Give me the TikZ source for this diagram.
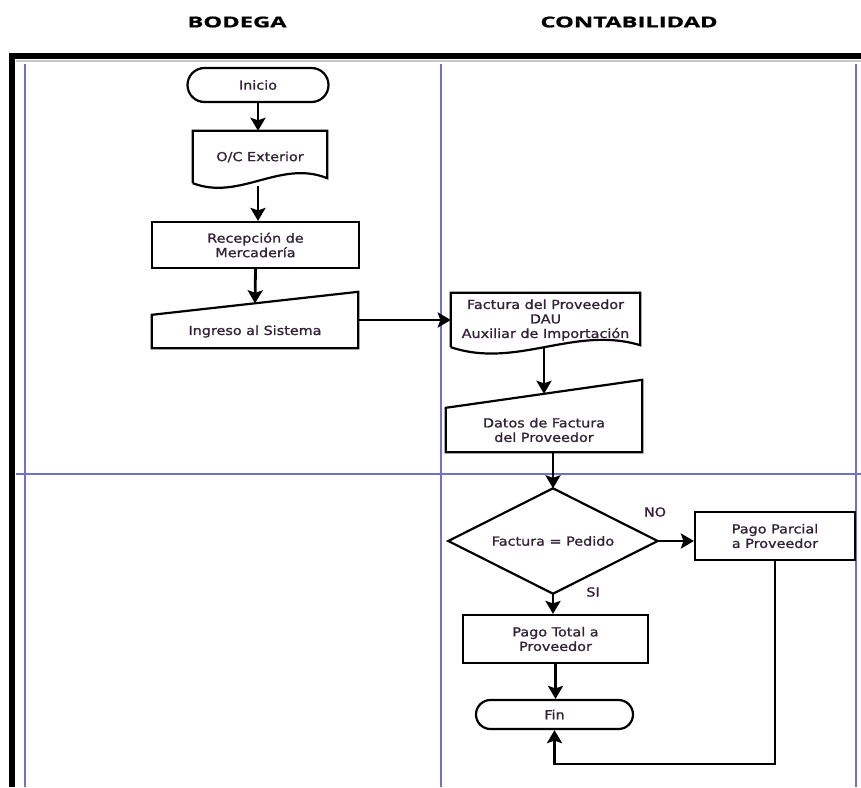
\documentclass[tikz,border=0pt]{standalone}
\usepackage{fontspec}
\setmainfont{DejaVu Sans}[FakeStretch=1.15,FakeBold=1.2]
\newfontfamily\headfont{Open Sans}[FakeStretch=1.58,FakeBold=0.8]
\usetikzlibrary{arrows.meta,calc,shapes.misc}
\definecolor{lanec}{RGB}{112,112,205}
\definecolor{txt}{RGB}{50,35,55}
\begin{document}
\begin{tikzpicture}[x=1pt,y=-1pt,
  lbl/.style={font=\fontsize{12.5}{14.5}\selectfont, text=txt, align=center, inner sep=0pt},
  box/.style={lbl, draw=none, rectangle},
  shp/.style={line width=2.2pt, line join=miter},
  rbox/.style={box, draw=black, line width=2.2pt},
  term/.style={lbl, rounded rectangle, draw=black, line width=2.2pt},
  conn/.style={line width=2.8pt, -{Stealth[length=13pt,width=15pt,inset=2.5pt]}},
  lane/.style={draw=lanec, line width=2.2pt},
  head/.style={font=\headfont\bfseries\fontsize{15}{18}\selectfont, text=black}]
\useasboundingbox (0,0) rectangle (861,787);
% frame and lanes
\draw[lane] (25,64) -- (25,787);
\draw[lane] (441,64) -- (441,787);
\draw[lane] (856,64) -- (856,787);
\draw[lane] (16,474) -- (861,474);
\draw[gray!45, line width=2pt] (16,60.5) -- (861,60.5);
\draw[line width=6pt, line join=miter] (12,787) -- (12,56) -- (861,56);
% headings
\node[head] (hbod) at (237,22) {BODEGA};
\node[head] (hcon) at (629,22) {CONTABILIDAD};
% nodes
\node[term, minimum width=141pt, minimum height=34pt] (inicio) at (258,85) {Inicio};
\node[box, minimum width=134pt, minimum height=52pt] (oc) at (260,157) {O/C Exterior};
\draw[shp] (oc.south west) -- (oc.north west) -- (oc.north east) -- ($(oc.south east)+(0,-5)$)
  .. controls ($(oc.south east)+(-47,-24)$) and ($(oc.south west)+(47,18)$) .. (oc.south west);
\node[rbox, minimum width=207pt, minimum height=46pt] (recep) at (255.5,245) {Recepción de\\Mercadería};
\node[box, minimum width=206pt, minimum height=33pt] (ingreso) at (255,331.5) {Ingreso al Sistema};
\draw[shp] (ingreso.south west) -- (ingreso.north west) -- ($(ingreso.north east)+(0,-23)$) -- (ingreso.south east) -- cycle;
\coordinate (ingtop) at ($(ingreso.north)+(0,-11.5)$);
\node[box, minimum width=189pt, minimum height=54pt] (factura) at (545.5,320) {Factura del Proveedor\\DAU\\Auxiliar de Importación};
\draw[shp] (factura.south west) -- (factura.north west) -- (factura.north east) -- ($(factura.south east)+(0,-2)$)
  .. controls ($(factura.south east)+(-66,-22)$) and ($(factura.south west)+(66,22)$) .. (factura.south west);
\node[box, minimum width=196pt, minimum height=44pt] (datos) at (544,430) {Datos de Factura\\del Proveedor};
\draw[shp] (datos.south west) -- (datos.north west) -- ($(datos.north east)+(0,-28)$) -- (datos.south east) -- cycle;
\coordinate (datostop) at ($(datos.north)+(0,-14)$);
\node[box, minimum width=209pt, minimum height=105pt] (dia) at (553,541) {Factura = Pedido};
\draw[shp] (dia.north) -- (dia.east) -- (dia.south) -- (dia.west) -- cycle;
\node[lbl] (no) at (655,512) {NO};
\node[lbl] (si) at (593,592) {SI};
\node[rbox, minimum width=160pt, minimum height=48pt] (parcial) at (775,536) {Pago Parcial\\a Proveedor};
\node[rbox, minimum width=185pt, minimum height=48pt] (total) at (555.5,639) {Pago Total a\\Proveedor};
\node[term, minimum width=157pt, minimum height=29pt] (fin) at (554.5,714.5) {Fin};
\coordinate (lp) at (776,764);
% connectors
\draw[conn] (inicio.south) -- (inicio.south |- oc.north);
\draw[conn] ($(oc.south)+(-2,3)$) -- (recep.north -| {$(oc.south)+(-2,3)$});
\draw[conn] (recep.south) -- (ingtop);
\draw[conn] (factura.west -| ingreso.east) -- (factura.west);
\draw[conn] (factura.south -| datostop) -- (datostop);
\draw[conn] (datos.south -| dia.north) -- (dia.north);
\draw[conn] (dia.east) -- (parcial.west |- dia.east);
\draw[conn] (dia.south) -- (dia.south |- total.north);
\draw[conn] (total.south) -- (total.south |- fin.north);
\draw[conn] (parcial.south) -- (parcial.south |- lp) -| (fin.south);
\end{tikzpicture}
\end{document}
